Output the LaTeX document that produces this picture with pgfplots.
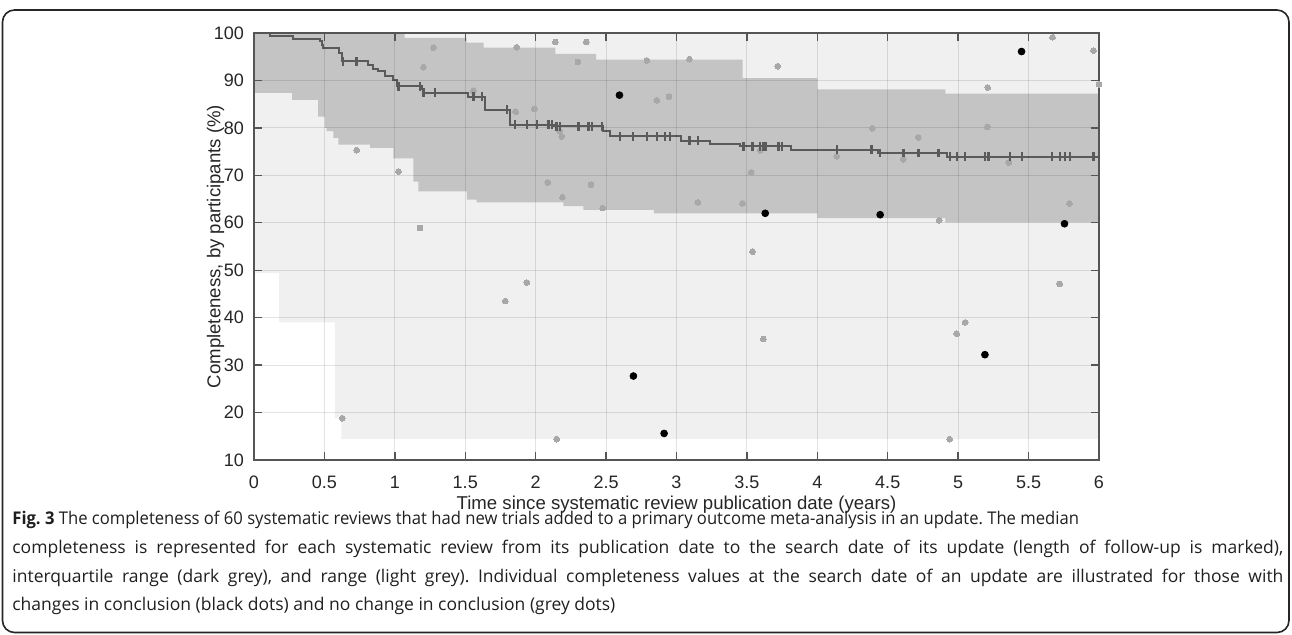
\documentclass[border=0pt]{standalone}
\usepackage{fontspec}
\setmainfont{Open Sans}
\newfontfamily\arial{Liberation Sans}
\usepackage{graphicx}
\usepackage{pgfplots}
\pgfplotsset{compat=1.18}

\definecolor{rangec}{HTML}{F0F0F0}
\definecolor{iqrc}{HTML}{C4C4C4}
\definecolor{medc}{HTML}{5A5A5A}
\definecolor{dotg}{HTML}{A8A8A8}
\definecolor{axc}{HTML}{555555}
\definecolor{txt}{HTML}{262626}

\begin{document}
\frenchspacing
\begin{tikzpicture}
% frame of the figure (1 px of the reference = 0.5pt)
\useasboundingbox (0pt,0pt) rectangle (646pt,317pt);
\draw[line width=0.8pt, rounded corners=6pt, black!85] (1.25pt,0.75pt) rectangle (644.5pt,312pt);

\begin{axis}[
  at={(127pt,87pt)}, anchor=south west,
  width=422.5pt, height=213.5pt, scale only axis,
  xmin=0, xmax=6, ymin=10, ymax=100,
  xtick={0,0.5,1,1.5,2,2.5,3,3.5,4,4.5,5,5.5,6},
  ytick={10,20,30,40,50,60,70,80,90,100},
  tick align=inside, tick pos=both, major tick length=4pt,
  axis line style={axc, line width=0.7pt},
  tick style={axc, line width=0.7pt},
  grid=major, major grid style={black, opacity=0.11, line width=0.5pt},
  axis on top,
  /pgf/number format/assume math mode=true,
  ticklabel style={font=\fontsize{9}{10}\selectfont\arial, text=txt},
  xticklabel style={yshift=-4.5pt},
  yticklabel style={xshift=-1.5pt},
  label style={font=\fontsize{9.3}{10}\selectfont\arial, text=txt},
  xlabel={Time since systematic review publication date (years)},
  ylabel={Completeness, by participants (\%)},
  xlabel shift=-3.5pt, ylabel shift=-12pt,
]

% range (light grey)
\addplot[fill=rangec, draw=none] coordinates {
  (0,100) (6,100) (6,14.4) (0.62,14.4) (0.62,18.8) (0.575,18.8)
  (0.575,39.0) (0.178,39.0) (0.178,49.4) (0,49.4)
} -- cycle;

% interquartile range (dark grey)
\addplot[fill=iqrc, draw=none] coordinates {
  (0,100) (1.07,100) (1.07,99.0) (1.51,99.0) (1.51,98.0) (1.63,98.0)
  (1.63,96.9) (2.14,96.9) (2.14,95.6) (2.43,95.6) (2.43,94.4) (3.47,94.4)
  (3.47,90.5) (4.0,90.5) (4.0,88.1) (4.91,88.1) (4.91,87.2) (6,87.2)
  (6,60.1) (4.91,60.1) (4.91,61.0) (4.0,61.0) (4.0,62.0) (2.84,62.0)
  (2.84,62.7) (2.339,62.7) (2.339,63.5) (2.197,63.5) (2.197,64.3) (1.58,64.3)
  (1.58,64.9) (1.511,64.9) (1.511,66.6) (1.167,66.6) (1.167,68.7) (1.131,68.7)
  (1.131,73.6) (0.989,73.6) (0.989,75.8) (0.824,75.8) (0.824,76.5) (0.599,76.5)
  (0.599,77.9) (0.563,77.9) (0.563,79.3) (0.516,79.3) (0.516,80.0) (0.504,80.0)
  (0.504,82.4) (0.456,82.4) (0.456,85.9) (0.27,85.9) (0.27,87.4) (0,87.4)
} -- cycle;

% no change in conclusion (grey dots)
\addplot[only marks, color=dotg, mark=*, mark size=1.45pt, mark options={draw=dotg, fill=dotg, line width=0pt}] coordinates {
  (0.627,18.8) (0.729,75.3) (1.025,70.8) (1.179,58.9) (1.203,92.8) (1.274,96.9)
  (1.558,87.8) (1.783,43.5) (1.858,83.4) (1.865,97.0) (1.937,47.4) (1.99,84.0)
  (2.086,68.5) (2.14,98.1) (2.149,14.4) (2.17,79.3) (2.185,78.2) (2.19,65.4)
  (2.30,93.9) (2.36,98.1) (2.393,68.0) (2.476,63.1) (2.79,94.2) (2.86,85.8)
  (2.947,86.6) (3.092,94.5) (3.151,64.3) (3.468,64.1) (3.53,70.6) (3.54,53.9)
  (3.594,75.3) (3.617,35.5) (3.719,93.0) (4.138,74.0) (4.39,79.9) (4.61,73.4)
  (4.717,78.0) (4.865,60.5) (4.94,14.4) (4.99,36.6) (5.05,39.0) (5.208,80.2)
  (5.21,88.5) (5.36,72.7) (5.67,99.1) (5.72,47.1) (5.79,64.1) (5.96,96.3)
  (6.0,89.2)
};

% median completeness
\addplot[const plot, medc, line width=1pt] coordinates {
  (0,100) (0.114,99.4) (0.28,98.8) (0.469,98.4) (0.48,97.5) (0.493,96.9)
  (0.6,95.8) (0.623,94.0) (0.812,93.3) (0.848,92.5) (0.883,91.9) (0.93,90.9)
  (0.99,90.2) (1.013,88.8) (1.19,88.1) (1.20,87.4) (1.52,86.6) (1.64,83.8)
  (1.82,80.7) (2.13,80.3) (2.48,79.3) (2.53,78.2) (3.03,77.3) (3.24,76.7)
  (3.45,76.1) (3.81,75.4) (4.43,74.7) (4.92,73.9) (6,73.9)
};

% length of follow-up marks
\addplot[only marks, mark=|, mark size=2.2pt, medc, mark options={line width=1.2pt}] coordinates {
  (0.634,94.0) (0.729,94.0) (1.025,88.8) (1.179,88.8) (1.203,87.4) (1.286,87.4)
  (1.558,86.6) (1.617,86.6) (1.795,83.8) (1.854,80.7) (1.937,80.7) (2.008,80.7)
  (2.09,80.7) (2.114,80.7) (2.149,80.3) (2.173,80.3) (2.303,80.3) (2.374,80.3)
  (2.398,80.3) (2.47,80.3) (2.599,78.2) (2.693,78.2) (2.789,78.2) (2.86,78.2)
  (2.919,78.2) (2.955,78.2) (3.092,77.3) (3.151,77.3) (3.475,76.1) (3.541,76.1)
  (3.594,76.1) (3.617,76.1) (3.634,76.1) (3.724,76.1) (3.748,76.1) (4.138,75.4)
  (4.386,75.4) (4.446,74.7) (4.611,74.7) (4.718,74.7) (4.86,74.7) (4.943,73.9)
  (4.99,73.9) (5.05,73.9) (5.19,73.9) (5.215,73.9) (5.369,73.9) (5.452,73.9)
  (5.665,73.9) (5.724,73.9) (5.76,73.9) (5.795,73.9) (5.96,73.9)
};

% change in conclusion (black dots)
\addplot[only marks, mark=*, mark size=1.7pt, black] coordinates {
  (2.595,86.9) (2.694,27.7) (2.912,15.6) (3.63,62.0) (4.446,61.7)
  (5.19,32.2) (5.45,96.1) (5.755,59.8)
};
\end{axis}

% caption
\begin{scope}[every node/.style={anchor=base west, inner sep=0pt, font=\fontsize{8.75}{11}\selectfont, text=black!88}]
\node at (6pt,55pt) {\scalebox{0.95}[1]{\textbf{Fig. 3} The completeness of 60 systematic reviews that had new trials added to a primary outcome meta-analysis in an update. The median}};
\node at (6pt,40.5pt) {\makebox[635.5pt][s]{completeness is represented for each systematic review from its publication date to the search date of its update (length of follow-up is marked),}};
\node at (6pt,26pt) {\makebox[635.5pt][s]{interquartile range (dark grey), and range (light grey). Individual completeness values at the search date of an update are illustrated for those with}};
\node at (6pt,12pt) {changes in conclusion (black dots) and no change in conclusion (grey dots)};
\end{scope}
\end{tikzpicture}
\end{document}
